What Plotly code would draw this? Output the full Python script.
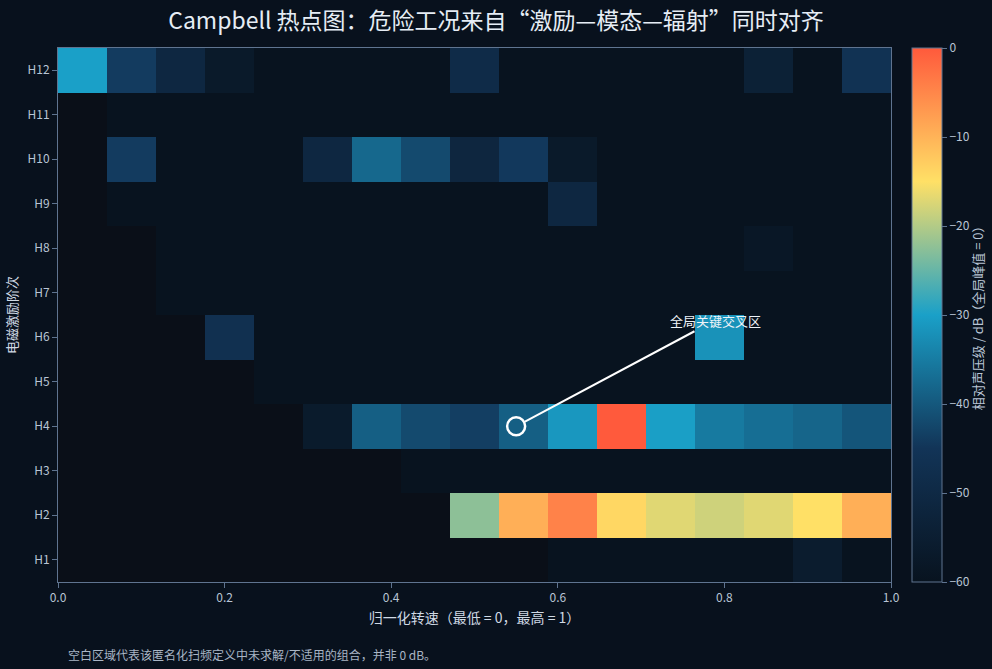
import numpy as np
import plotly.graph_objects as go

N = None
# normalized speed bins (17 columns, centers)
speed = [(k + 0.5) / 17 for k in range(17)]
orders = ["H1", "H2", "H3", "H4", "H5", "H6", "H7", "H8", "H9", "H10", "H11", "H12"]

H1 = [N, N, N, N, N, N, N, N, N, N, -60, -60, -60, -60, -60, -56, -60]
H2 = [N, N, N, N, N, N, N, N, -22.5, -9.5, -4.5, -14, -17, -18.2, -17, -15, -9.5]
H3 = [N, N, N, N, N, N, N, -60, -60, -60, -60, -60, -60, -60, -60, -60, -60]
H4 = [N, N, N, N, N, -56.5, -39, -42, -43.6, -39, -31.2, 0, -30.2, -35.3, -36.9, -38.2, -40.4]
H5 = [N, N, N, N, -60, -60, -60, -60, -60, -60, -60, -60, -60, -60, -60, -60, -60]
H6 = [N, N, N, -47, -60, -60, -60, -60, -60, -60, -60, -60, -60, -32, -60, -60, -60]
H7 = [N, N, -60, -60, -60, -60, -60, -60, -60, -60, -60, -60, -60, -60, -60, -60, -60]
H8 = [N, N, -60, -60, -60, -60, -60, -60, -60, -60, -60, -60, -60, -60, -58, -60, -60]
H9 = [N, -60, -60, -60, -60, -60, -60, -60, -60, -60, -51, -60, -60, -60, -60, -60, -60]
H10 = [N, -44, -60, -60, -60, -51, -37.8, -42, -51.5, -44.4, -57, -60, -60, -60, -60, -60, -60]
H11 = [N, -60, -60, -60, -60, -60, -60, -60, -60, -60, -60, -60, -60, -60, -60, -60, -60]
H12 = [-30, -44, -51, -57, -60, -60, -60, -60, -49, -60, -60, -60, -60, -60, -53.8, -60, -46]

z_rows = [H1, H2, H3, H4, H5, H6, H7, H8, H9, H10, H11, H12]
z = np.array([[np.nan if v is None else v for v in r] for r in z_rows], dtype=float)

x_ticks = [0.0, 0.2, 0.4, 0.6, 0.8, 1.0]
cbar_ticks = [0, -10, -20, -30, -40, -50, -60]

hot_x = [0.55]
hot_y = ["H4"]

colorscale = [
    [0.0, "#08131f"],
    [0.25, "#123457"],
    [0.5, "#1aa0c8"],
    [0.75, "#ffe066"],
    [1.0, "#ff5a3c"],
]

FONT = "Noto Sans CJK SC, Noto Sans, sans-serif"
AXC = "#5f7490"
TXT = "#b9c5d5"
BG = "#08111d"

fig = go.Figure()
fig.add_trace(go.Heatmap(
    x=speed, y=orders, z=z,
    zmin=-60, zmax=0,
    colorscale=colorscale,
    hoverongaps=False,
    colorbar=dict(
        x=1.0252, xanchor="left", xpad=0, ypad=0,
        y=0.5, yanchor="middle", len=1.0, lenmode="fraction",
        thickness=30,
        outlinecolor=AXC, outlinewidth=1,
        tickvals=cbar_ticks,
        ticks="outside", ticklen=5, tickcolor=AXC,
        tickfont=dict(color=TXT, size=12, family=FONT),
    ),
))

fig.add_trace(go.Scatter(
    x=hot_x, y=hot_y, mode="markers",
    marker=dict(symbol="circle-open", size=18, color="#ffffff",
                line=dict(width=2.5, color="#ffffff")),
    showlegend=False, hoverinfo="skip",
))

fig.add_annotation(
    x=hot_x[0], y=hot_y[0], xref="x", yref="y",
    text="全局关键交叉区", showarrow=True,
    ax=199, ay=-106, arrowhead=0, arrowwidth=2, arrowcolor="#ffffff",
    standoff=10,
    font=dict(color="#eef3f8", size=13, family=FONT),
)

# colorbar title
fig.add_annotation(
    x=1.1035, y=0.5, xref="paper", yref="paper",
    xanchor="center", yanchor="middle", showarrow=False, textangle=-90,
    text="相对声压级 / dB（全局峰值 = 0）",
    font=dict(color=TXT, size=13, family=FONT),
)

fig.add_annotation(
    x=0.0096, y=-0.135, xref="paper", yref="paper",
    xanchor="left", yanchor="middle", showarrow=False,
    text="空白区域代表该匿名化扫频定义中未求解/不适用的组合，并非 0 dB。",
    font=dict(color="#a9b5c5", size=12, family=FONT),
)

fig.update_layout(
    width=992, height=669,
    margin=dict(l=58, r=101, t=48, b=87),
    paper_bgcolor=BG,
    plot_bgcolor="#0a0f18",
    font=dict(family=FONT, color=TXT),
    title=dict(text="Campbell 热点图：危险工况来自“激励—模态—辐射”同时对齐",
               x=0.5, xanchor="center", y=0.968, yanchor="middle",
               font=dict(size=23, color="#e6edf5", family=FONT)),
    xaxis=dict(
        range=[0, 1], tickvals=x_ticks, tickformat=".1f",
        showgrid=False, zeroline=False,
        showline=True, linecolor=AXC, linewidth=1, mirror=True,
        ticks="outside", ticklen=5, tickcolor=AXC,
        tickfont=dict(color=TXT, size=12),
        title=dict(text="归一化转速（最低 = 0，最高 = 1）", standoff=8,
                   font=dict(color="#d0d9e4", size=14)),
    ),
    yaxis=dict(
        categoryorder="array", categoryarray=orders,
        showgrid=False, zeroline=False,
        showline=True, linecolor=AXC, linewidth=1, mirror=True,
        ticks="outside", ticklen=5, tickcolor=AXC,
        tickfont=dict(color=TXT, size=12),
        title=dict(text="电磁激励阶次", standoff=6,
                   font=dict(color="#d0d9e4", size=13)),
    ),
)

post = ("document.body.style.margin='0';"
        "document.body.style.padding='0';"
        "document.body.style.overflow='hidden';"
        "document.body.style.background='" + BG + "';")

fig.write_html("out.html", post_script=post,
               config={"displayModeBar": False, "responsive": False})
